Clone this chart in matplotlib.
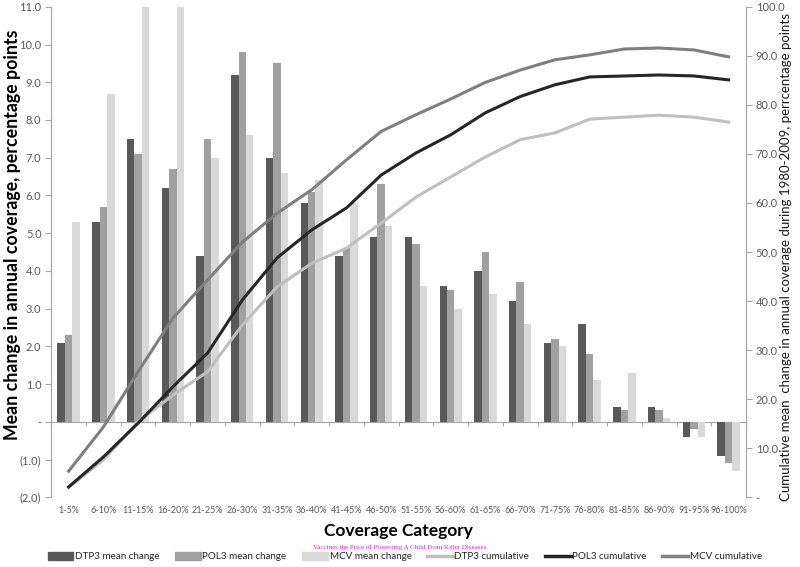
import matplotlib
matplotlib.use("Agg")
import matplotlib.pyplot as plt
import numpy as np
from matplotlib.patches import Patch
from matplotlib.lines import Line2D

plt.rcParams['font.family'] = ['Lato', 'DejaVu Sans']

# coverage categories
categories = ['1-5%', '6-10%', '11-15%', '16-20%', '21-25%', '26-30%', '31-35%',
              '36-40%', '41-45%', '46-50%', '51-55%', '56-60%', '61-65%', '66-70%',
              '71-75%', '76-80%', '81-85%', '86-90%', '91-95%', '96-100%']

# mean change in annual coverage (left axis)
dtp3_mean = [2.1, 5.3, 7.5, 6.2, 4.4, 9.2, 7.0, 5.8, 4.4, 4.9,
             4.9, 3.6, 4.0, 3.2, 2.1, 2.6, 0.4, 0.4, -0.4, -0.9]
pol3_mean = [2.3, 5.7, 7.1, 6.7, 7.5, 9.8, 9.5, 6.1, 4.6, 6.3,
             4.7, 3.5, 4.5, 3.7, 2.2, 1.8, 0.3, 0.3, -0.2, -1.1]
mcv_mean = [5.3, 8.7, 11.0, 11.0, 7.0, 7.6, 6.6, 6.4, 5.8, 5.2,
            3.6, 3.0, 3.4, 2.6, 2.0, 1.1, 1.3, 0.1, -0.4, -1.3]

# cumulative mean change (right axis)
dtp3_cum = [2.0, 7.6, 15.4, 20.8, 25.6, 35.1, 42.9, 47.7, 50.8, 55.9,
            61.2, 65.3, 69.4, 72.9, 74.3, 77.1, 77.5, 77.9, 77.5, 76.5]
pol3_cum = [2.1, 8.2, 15.1, 22.5, 29.4, 40.2, 48.8, 54.5, 59.0, 65.7,
            70.2, 73.9, 78.4, 81.7, 84.1, 85.7, 85.9, 86.1, 85.9, 85.1]
mcv_cum = [5.3, 14.3, 25.6, 36.5, 44.3, 52.0, 57.9, 62.7, 68.8, 74.6,
           78.0, 81.2, 84.6, 87.1, 89.2, 90.2, 91.4, 91.6, 91.2, 89.8]

bar_colors = ['#595959', '#a0a0a0', '#d9d9d9']
line_colors = ['#bfbfbf', '#262626', '#7f7f7f']
tick_color = '#595959'
axis_color = '#a6a6a6'

fig = plt.figure(figsize=(8, 5.67), dpi=100)
ax = fig.add_axes([0.064, 0.123, 0.8685, 0.865])
ax2 = ax.twinx()

x = np.arange(len(categories))
w = 0.215
ax.bar(x - w, dtp3_mean, w, color=bar_colors[0])
ax.bar(x, pol3_mean, w, color=bar_colors[1])
ax.bar(x + w, mcv_mean, w, color=bar_colors[2])

ax2.plot(x, dtp3_cum, color=line_colors[0], lw=2.2)
ax2.plot(x, pol3_cum, color=line_colors[1], lw=2.2)
ax2.plot(x, mcv_cum, color=line_colors[2], lw=2.2)

ax.set_xlim(-0.5, len(categories) - 0.5)
ax.set_ylim(-2, 11)
ax2.set_ylim(0, 100)


def left_fmt(v, pos):
    if abs(v) < 1e-9:
        return '-'
    if v < 0:
        return '(%.1f)' % -v
    return '%.1f' % v


def right_fmt(v, pos):
    if abs(v) < 1e-9:
        return '-'
    return '%.1f' % v


ax.set_yticks(np.arange(-2, 12, 1))
ax.yaxis.set_major_formatter(plt.FuncFormatter(left_fmt))
ax2.set_yticks(np.arange(0, 110, 10))
ax2.yaxis.set_major_formatter(plt.FuncFormatter(right_fmt))

ax.set_xticks(x)
ax.set_xticklabels(categories)
ax.tick_params(axis='x', length=0, pad=6, labelsize=6.5, labelcolor=tick_color)
ax.tick_params(axis='y', length=4, width=0.8, color=axis_color, labelsize=8, labelcolor=tick_color, pad=3)
ax2.tick_params(axis='y', length=4, width=0.8, color=axis_color, labelsize=8, labelcolor=tick_color, pad=3)

for a in (ax, ax2):
    a.spines['top'].set_visible(False)
    a.spines['bottom'].set_visible(False)
    a.spines['left'].set_color(axis_color)
    a.spines['right'].set_color(axis_color)
    a.patch.set_visible(False)

# category axis drawn at zero with ticks between groups
zero_ax = ax.secondary_xaxis(2 / 13)
zero_ax.set_xticks(np.arange(-0.5, len(categories), 1))
zero_ax.tick_params(axis='x', length=3, width=0.8, color=axis_color, labelbottom=False)
zero_ax.spines['bottom'].set_color(axis_color)

ax.set_ylabel('Mean change in annual coverage, percentage points', fontsize=12.8, fontweight='bold')
ax.yaxis.set_label_coords(-0.043, 0.535)
ax2.set_ylabel('Cumulative mean  change in annual coverage during 1980-2009, perrcentage points',
               fontsize=9.5, color='#1a1a1a')
ax2.yaxis.set_label_coords(1.049, 0.49)
ax.set_xlabel('Coverage Category', fontsize=12.5, fontweight='bold')
ax.xaxis.set_label_coords(0.5, -0.052)

fig.text(0.5, 0.035, 'Vaccines the Price of Protecting A Child From Killer Diseases',
         fontsize=5, color='#e020e0', family='Liberation Serif', ha='center', va='center')

handles = [Patch(color=bar_colors[0]), Patch(color=bar_colors[1]), Patch(color=bar_colors[2]),
           Line2D([], [], color=line_colors[0], lw=2.5),
           Line2D([], [], color=line_colors[1], lw=2.5),
           Line2D([], [], color=line_colors[2], lw=2.5)]
labels = ['DTP3 mean change', 'POL3 mean change', 'MCV mean change',
          'DTP3 cumulative', 'POL3 cumulative', 'MCV cumulative']
fig.legend(handles, labels, loc='center', bbox_to_anchor=(0.506, 0.018), ncol=6, frameon=False,
           fontsize=7.1, handlelength=2.6, handleheight=0.8, columnspacing=1.6, handletextpad=0.15,
           labelcolor='#262626', borderpad=0.2)

fig.savefig('out.png', dpi=100)
